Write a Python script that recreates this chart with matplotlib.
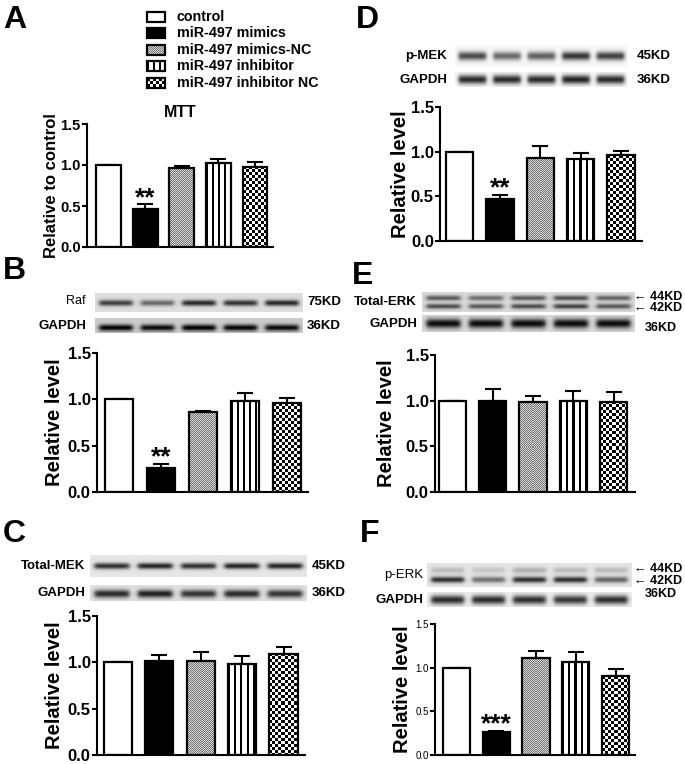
import numpy as np
import matplotlib
matplotlib.use('Agg')
import matplotlib.pyplot as plt
from matplotlib.patches import Rectangle

plt.rcParams['font.family'] = ['Liberation Sans', 'DejaVu Sans']

W, H = 685, 764

groups = ['control', 'miR-497 mimics', 'miR-497 mimics-NC', 'miR-497 inhibitor', 'miR-497 inhibitor NC']

mtt_mean = [1.0, 0.46, 0.96, 1.03, 0.98]
mtt_err = [0.0, 0.06, 0.03, 0.04, 0.06]
raf_mean = [1.0, 0.26, 0.86, 0.98, 0.96]
raf_err = [0.0, 0.04, 0.01, 0.09, 0.05]
tmek_mean = [1.0, 1.01, 1.01, 0.98, 1.09]
tmek_err = [0.0, 0.07, 0.10, 0.09, 0.08]
pmek_mean = [1.0, 0.47, 0.93, 0.92, 0.96]
pmek_err = [0.0, 0.05, 0.13, 0.07, 0.05]
terk_mean = [1.0, 1.0, 0.99, 1.0, 0.99]
terk_err = [0.0, 0.13, 0.06, 0.11, 0.11]
perk_mean = [1.0, 0.26, 1.11, 1.07, 0.90]
perk_err = [0.0, 0.02, 0.08, 0.11, 0.08]
yticks = [0.0, 0.5, 1.0, 1.5]

# band darkness of each lane on the blots
raf_band = [0.75, 0.55, 0.85, 0.8, 0.85]
raf_gapdh = [0.95, 0.9, 0.95, 0.92, 0.9]
tmek_band = [0.85, 0.9, 0.85, 0.9, 0.9]
tmek_gapdh = [0.85, 0.9, 0.8, 0.85, 0.8]
pmek_band = [0.8, 0.65, 0.7, 0.9, 0.85]
pmek_gapdh = [0.95, 0.95, 0.95, 0.98, 0.95]
terk_44 = [0.6, 0.5, 0.6, 0.65, 0.55]
terk_42 = [0.65, 0.6, 0.65, 0.7, 0.6]
terk_gapdh = [0.95, 0.95, 0.95, 0.95, 0.95]
perk_44 = [0.2, 0.15, 0.25, 0.2, 0.2]
perk_42 = [0.85, 0.55, 0.85, 0.85, 0.6]
perk_gapdh = [0.9, 0.9, 0.88, 0.85, 0.88]

faces = ['white', 'black', 'white', 'white', 'white']
patterns = [None, None, 'fine', 'stripes', 'checker']

fig = plt.figure(figsize=(6.85, 7.64), dpi=100)


def box(x0, y0, x1, y1):
    return [x0 / W, 1 - y1 / H, (x1 - x0) / W, (y1 - y0) / H]


def pattern(kind, wpx, hpx):
    # pattern image, one cell per screen pixel
    nx, ny = max(int(round(wpx)), 1), max(int(round(hpx)), 1)
    jj, ii = np.meshgrid(np.arange(nx), np.arange(ny))
    if kind == 'fine':
        img = np.where((ii + jj) % 2 == 0, 0.45, 0.85)
    elif kind == 'checker':
        img = np.where(((ii // 3) + (jj // 3)) % 2 == 0, 0.0, 1.0)
    else:
        img = np.where(jj % 6 < 2, 0.0, 1.0)
    return img


# overlay axes in pixel units for labels
ov = fig.add_axes([0, 0, 1, 1])
ov.set_xlim(0, W)
ov.set_ylim(H, 0)
ov.axis('off')


def bars(rect, centers, means, errs, ylab, labx, tick_fs=12, tick_bold=True, lab_fs=14.5, stars=None):
    x0, y0, x1, y1 = rect
    ax = fig.add_axes(box(*rect))
    sp = (centers[-1] - centers[0]) / 4
    pxu = (y1 - y0) / 1.5
    x = np.arange(5)
    bw = 0.68
    for i in range(5):
        if patterns[i]:
            img = pattern(patterns[i], bw * sp, means[i] * pxu)
            ax.imshow(img, cmap='gray', vmin=0, vmax=1, aspect='auto', interpolation='nearest',
                      extent=[x[i] - bw / 2, x[i] + bw / 2, 0, means[i]], zorder=1.5)
    ax.bar(x, means, width=bw, color=[f if p is None else 'none' for f, p in zip(faces, patterns)],
           edgecolor='black', linewidth=1.6, zorder=2)
    ax.errorbar(x, means, yerr=[np.zeros(5), errs], fmt='none', ecolor='black',
                elinewidth=1.5, capsize=6, capthick=1.5, zorder=1)
    ax.set_xlim((x0 - centers[0]) / sp, (x1 - centers[0]) / sp)
    ax.set_ylim(0, 1.5)
    ax.set_yticks(yticks)
    ax.set_yticklabels(['%.1f' % t for t in yticks], fontsize=tick_fs,
                       fontweight='bold' if tick_bold else 'normal')
    ax.set_xticks([])
    for s in ['top', 'right']:
        ax.spines[s].set_visible(False)
    for s in ['left', 'bottom']:
        ax.spines[s].set_linewidth(1.5)
    ax.tick_params(axis='y', length=3.5, width=1.5, pad=1)
    ax.patch.set_alpha(0)
    ax.set_ylabel(ylab, fontsize=lab_fs, fontweight='bold', va='center')
    ax.yaxis.set_label_coords((labx - x0) / (x1 - x0), 0.5)
    if stars:
        ax.annotate(stars, (1, means[1] + errs[1]), xytext=(0, -4), textcoords='offset points',
                    ha='center', va='bottom', fontsize=19, fontweight='bold')
    return ax


def blot(rect, rows, bg, sigma=0.16):
    ax = fig.add_axes(box(*rect))
    ny, nx = 60, 400
    xs = np.linspace(0, 5, nx)
    ys = np.linspace(0, 1, ny)
    img = np.full((ny, nx), bg)
    for yc, vals in rows:
        xprof = np.zeros(nx)
        for i, v in enumerate(vals):
            xprof += v / (1 + np.exp((np.abs(xs - (i + 0.5)) - 0.40) / 0.03))
        yprof = np.exp(-((ys - yc) / sigma) ** 2)
        img = img - 0.85 * np.outer(yprof, xprof)
    img = np.clip(img, 0, 1)
    ax.imshow(img, cmap='gray', vmin=0, vmax=1, aspect='auto',
              extent=[0, 5, 1, 0], interpolation='bilinear')
    ax.axis('off')
    return ax


bold = dict(fontweight='bold')

# panel letters
for lab, lx, ly in [('A', 3, 20), ('B', 3, 271), ('C', 3, 534), ('D', 356, 20), ('E', 352, 276), ('F', 360, 534)]:
    ov.text(lx, ly, lab, fontsize=23, fontweight='bold', va='center', ha='left')

# legend
leg_y = [17, 33, 50, 66, 83]
for i, g in enumerate(groups):
    if patterns[i]:
        ov.imshow(pattern(patterns[i], 18, 10), cmap='gray', vmin=0, vmax=1, aspect='auto',
                  interpolation='nearest', extent=[147, 165, leg_y[i] + 5, leg_y[i] - 5])
    ov.add_patch(Rectangle((147, leg_y[i] - 5), 18, 10, facecolor=faces[i] if patterns[i] is None else 'none',
                           edgecolor='black', linewidth=1.6))
    ov.text(177, leg_y[i], g, fontsize=10.3, va='center', ha='left', **bold)
ov.set_xlim(0, W)
ov.set_ylim(H, 0)

# A
axA = bars((87, 124, 273, 247), [108.5, 145.5, 181.5, 218, 255], mtt_mean, mtt_err,
           'Relative to control', 52, tick_fs=10.5, lab_fs=12, stars='**')
axA.set_title('MTT', fontsize=11.5, fontweight='bold', pad=5)

# B
blot((95, 293, 303, 312), [(0.55, raf_band)], 0.87, sigma=0.15)
blot((95, 318, 303, 333), [(0.65, raf_gapdh)], 0.80, sigma=0.22)
ov.text(86, 301, 'Raf', fontsize=9, ha='right', va='center')
ov.text(86, 326, 'GAPDH', fontsize=9.5, ha='right', va='center', **bold)
ov.text(307, 302, '75KD', fontsize=9.5, ha='left', va='center', **bold)
ov.text(307, 326, '36KD', fontsize=9.5, ha='left', va='center', **bold)
bars((97, 353, 308, 492), [119, 161, 203, 245, 287], raf_mean, raf_err, 'Relative level', 54, stars='**')

# C
blot((90, 555, 307, 577), [(0.5, tmek_band)], 0.90, sigma=0.14)
blot((90, 585, 307, 601), [(0.55, tmek_gapdh)], 0.88, sigma=0.25)
ov.text(85, 566, 'Total-MEK', fontsize=9.5, ha='right', va='center', **bold)
ov.text(85, 593, 'GAPDH', fontsize=9.5, ha='right', va='center', **bold)
ov.text(312, 566, '45KD', fontsize=9.5, ha='left', va='center', **bold)
ov.text(312, 593, '36KD', fontsize=9.5, ha='left', va='center', **bold)
bars((97, 616, 305, 755), [118, 159, 201, 242.5, 283.5], tmek_mean, tmek_err, 'Relative level', 54)

# D
blot((455, 45, 628, 67), [(0.5, pmek_band)], 0.97, sigma=0.2)
blot((455, 72, 628, 87), [(0.5, pmek_gapdh)], 0.97, sigma=0.3)
ov.text(447, 56, 'p-MEK', fontsize=9.5, ha='right', va='center', **bold)
ov.text(447, 80, 'GAPDH', fontsize=9.5, ha='right', va='center', **bold)
ov.text(637, 56, '45KD', fontsize=9.5, ha='left', va='center', **bold)
ov.text(637, 80, '36KD', fontsize=9.5, ha='left', va='center', **bold)
bars((440, 107, 642, 241), [459.5, 500, 540, 580.5, 621], pmek_mean, pmek_err, 'Relative level', 400, stars='**')

# E
blot((422, 292, 635, 312), [(0.3, terk_44), (0.72, terk_42)], 0.85, sigma=0.13)
blot((422, 315, 635, 332), [(0.5, terk_gapdh)], 0.85, sigma=0.28)
ov.text(417, 302, 'Total-ERK', fontsize=9.5, ha='right', va='center', **bold)
ov.text(417, 324, 'GAPDH', fontsize=9.5, ha='right', va='center', **bold)
ov.text(634, 297, '\u2190 44KD', fontsize=9, ha='left', va='center', **bold)
ov.text(634, 308, '\u2190 42KD', fontsize=9, ha='left', va='center', **bold)
ov.text(645, 328, '36KD', fontsize=9, ha='left', va='center', **bold)
bars((435, 355, 635, 492), [452.5, 493, 533.5, 573.5, 613.5], terk_mean, terk_err, 'Relative level', 387)

# F
blot((427, 563, 632, 587), [(0.3, perk_44), (0.7, perk_42)], 0.90, sigma=0.13)
blot((427, 592, 632, 607), [(0.55, perk_gapdh)], 0.93, sigma=0.28)
ov.text(423, 575, 'p-ERK', fontsize=9.5, ha='right', va='center')
ov.text(423, 600, 'GAPDH', fontsize=9.5, ha='right', va='center', **bold)
ov.text(634, 569, '\u2190 44KD', fontsize=9, ha='left', va='center', **bold)
ov.text(634, 581, '\u2190 42KD', fontsize=9, ha='left', va='center', **bold)
ov.text(645, 594, '36KD', fontsize=9, ha='left', va='center', **bold)
bars((435, 624, 635, 755), [456.5, 496.5, 536, 576, 615.5], perk_mean, perk_err, 'Relative level', 402,
     tick_fs=7, tick_bold=False, stars='***')

fig.savefig('out.png', dpi=100)
